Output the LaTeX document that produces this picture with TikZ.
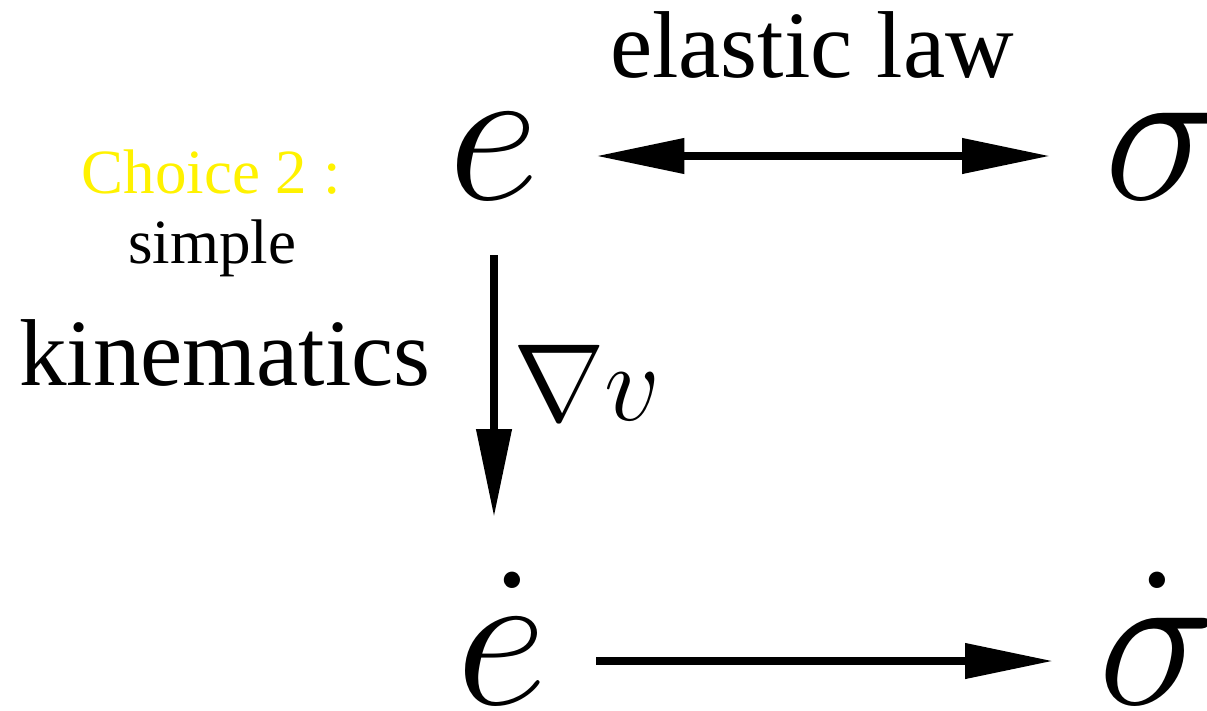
\documentclass[tikz,border=0pt]{standalone}
\usepackage{fix-cm}
\usepackage[no-math]{fontspec}
\setmainfont{Liberation Serif}
\usetikzlibrary{arrows.meta}

\begin{document}
\begin{tikzpicture}[
    x=1pt, y=-1pt,
    every node/.style={inner sep=0pt, outer sep=0pt},
    quantity/.style={font=\fontsize{200}{200}\selectfont, text height=86pt, text depth=0pt},
    word/.style={font=\fontsize{95}{95}\selectfont, anchor=base},
    note/.style={font=\fontsize{63}{63}\selectfont, anchor=base},
    arr/.style={line width=7.5pt, -{Triangle[length=88pt, width=34pt]}},
    biarr/.style={line width=7.5pt, {Triangle[length=88pt, width=34pt]}-{Triangle[length=88pt, width=34pt]}}
]
    \useasboundingbox (0,0) rectangle (1207,710);

    % ================= QUANTITIES =================
    \node[quantity, anchor=base] (e) at (494,199) {$e$};
    \node[quantity, anchor=base west] (sig) at (1104,199) {$\sigma$};
    \node[quantity, anchor=base] (edot) at (502,704) {$\dot{e}$};
    \node[quantity, anchor=base west] (sigdot) at (1098,704) {$\dot{\sigma}$};

    % ================= LABELS =================
    \node[word] (law) at (812,77) {elastic law};
    \node[word] (kin) at (225,385) {kinematics};
    \node[note, text=yellow] (choice) at (211,193) {Choice 2 :};
    \node[note] (simple) at (212,263) {simple};
    \node[font=\fontsize{110}{110}\selectfont, anchor=base west] (grad) at (513,420) {$\nabla v$};

    % ================= ARROWS =================
    \draw[biarr, shorten <=57pt, shorten >=54pt] (e) -- (sig);
    \draw[arr, shorten <=56pt, shorten >=101pt] (e.south) -- (e.south |- edot.north);
    \draw[arr, shorten <=49pt, shorten >=45pt] (edot) -- (sigdot);

\end{tikzpicture}
\end{document}
